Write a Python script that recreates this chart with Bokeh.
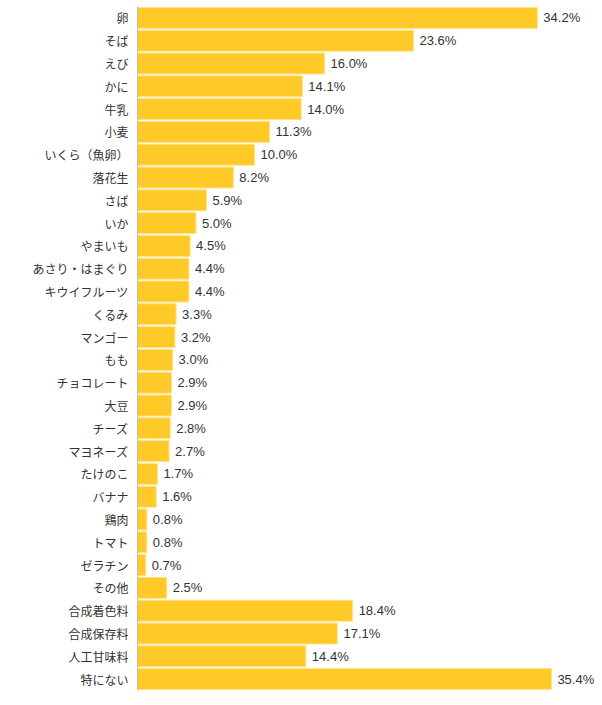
from bokeh.plotting import figure
from bokeh.models import FactorRange, ColumnDataSource, Range1d
from bokeh.core.properties import value
from bokeh.embed import file_html
from bokeh.resources import INLINE

categories = ["卵", "そば", "えび", "かに", "牛乳", "小麦", "いくら（魚卵）", "落花生", "さば", "いか",
              "やまいも", "あさり・はまぐり", "キウイフルーツ", "くるみ", "マンゴー", "もも", "チョコレート", "大豆",
              "チーズ", "マヨネーズ", "たけのこ", "バナナ", "鶏肉", "トマト", "ゼラチン", "その他",
              "合成着色料", "合成保存料", "人工甘味料", "特にない"]
values = [34.2, 23.6, 16.0, 14.1, 14.0, 11.3, 10.0, 8.2, 5.9, 5.0,
          4.5, 4.4, 4.4, 3.3, 3.2, 3.0, 2.9, 2.9, 2.8, 2.7,
          1.7, 1.6, 0.8, 0.8, 0.7, 2.5, 18.4, 17.1, 14.4, 35.4]
labels = ["%.1f%%" % v for v in values]

FONT = "Noto Sans CJK JP"

src = ColumnDataSource(dict(cat=categories, val=values, lab=labels))

p = figure(width=600, height=697, output_backend="svg", toolbar_location=None,
           y_range=FactorRange(factors=list(reversed(categories))),
           x_range=Range1d(0, 39.6),
           min_border_left=137, min_border_right=0, min_border_top=6, min_border_bottom=7)
p.hbar(y="cat", right="val", left=0, height=0.92, source=src,
       fill_color="#FFCA28", line_color="#FFE28A", line_width=1)
p.text(x="val", y="cat", text="lab", source=src, x_offset=6,
       text_baseline="middle", text_align="left", text_font_size="13px",
       text_font=value("Liberation Sans"), text_color="#333333")

p.xaxis.visible = False
p.xgrid.visible = False
p.ygrid.visible = False
p.outline_line_color = None
ax = p.yaxis[0]
ax.axis_line_color = "#bbbbbb"
ax.major_tick_line_color = None
ax.minor_tick_line_color = None
ax.major_label_text_font = FONT
ax.major_label_text_font_size = "12px"
ax.major_label_text_color = "#333333"
ax.major_label_standoff = 3

open("out.html", "w").write(file_html(p, INLINE))
